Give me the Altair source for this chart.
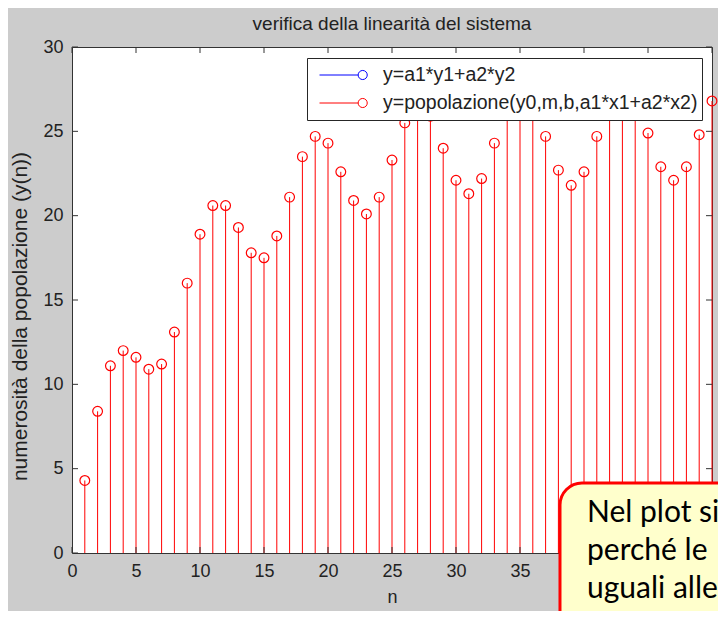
import altair as alt
import pandas as pd

# ---- data ----
n_values = list(range(1, 51))
y_values = [4.3, 8.4, 11.1, 12.0, 11.6, 10.9, 11.2, 13.1, 16.0, 18.9,
            20.6, 20.6, 19.3, 17.8, 17.5, 18.8, 21.1, 23.5, 24.7, 24.3,
            22.6, 20.9, 20.1, 21.1, 23.3, 25.5, 27.6, 25.9, 24.0, 22.1,
            21.3, 22.2, 24.3, 26.8, 27.9, 26.9, 24.7, 22.7, 21.8, 22.6,
            24.7, 26.6, 27.4, 26.6, 24.9, 22.9, 22.1, 22.9, 24.8, 26.8]
series_names = ["y=a1*y1+a2*y2", "y=popolazione(y0,m,b,a1*x1+a2*x2)"]
series_colors = ["#0000FF", "#FF0000"]
x_ticks = [0, 5, 10, 15, 20, 25, 30, 35, 40, 45, 50]
y_ticks = [0, 5, 10, 15, 20, 25, 30]
note_lines = ["Nel  plot  si", "perché  le", "uguali  alle"]

W, H = 640, 506
FONT = "Liberation Sans"
TXT = "#222222"
FRAME = "#333333"

# the blue series coincides with the red one and is completely hidden under it,
# so only the red stems are drawn; the legend lists both series
df = pd.DataFrame({"n": n_values, "value": y_values, "serie": series_names[1]})

xt = pd.DataFrame({"n": x_ticks})
yt = pd.DataFrame({"value": y_ticks})

xscale = alt.Scale(domain=[0, 50], nice=False)
yscale = alt.Scale(domain=[0, 30], nice=False)

sym_path = "M-1,0L0.61,0M0.99,0A0.19,0.19,0,1,1,0.61,0A0.19,0.19,0,1,1,0.99,0"
legend = alt.Legend(title=None, orient="none", legendX=235, legendY=11,
                    fillColor="white", strokeColor="#262626", padding=4,
                    clipHeight=26, rowPadding=2, symbolType=sym_path,
                    symbolSize=2304, symbolStrokeWidth=1, symbolOffset=8,
                    symbolFillColor="transparent",
                    labelOffset=15, labelFontSize=19.5, labelFont=FONT,
                    labelColor=TXT, labelLimit=420)
color = alt.Color("serie:N",
                  scale=alt.Scale(domain=series_names, range=series_colors),
                  legend=legend)

xenc = alt.X("n:Q", scale=xscale,
             axis=alt.Axis(values=x_ticks, title="n", ticks=False, grid=False,
                           domain=False, labelPadding=9, titlePadding=8,
                           labelFontSize=18, titleFontSize=18, labelFont=FONT,
                           titleFont=FONT, labelColor=TXT, titleColor=TXT,
                           titleFontWeight="normal", labelFlush=False))
yenc = alt.Y("value:Q", scale=yscale,
             axis=alt.Axis(values=y_ticks, title="numerosità della popolazione (y(n))",
                           ticks=False, grid=False, domain=False, labelPadding=9,
                           titlePadding=12, labelFontSize=18, titleFontSize=21,
                           titleY=269,
                           labelFont=FONT, titleFont=FONT, labelColor=TXT,
                           titleColor=TXT, titleFontWeight="normal", labelFlush=False))

stems = alt.Chart(df).mark_rule(strokeWidth=1).encode(
    x=xenc, y=yenc, y2=alt.datum(0), color=color)

points = alt.Chart(df).mark_point(shape="circle", filled=False, size=95,
                                  strokeWidth=1.2, opacity=1).encode(
    x="n:Q", y="value:Q", color=color)

tick_top = alt.Chart(xt).mark_rule(color=FRAME).encode(
    x="n:Q", y=alt.value(0), y2=alt.value(6))
tick_bot = alt.Chart(xt).mark_rule(color=FRAME).encode(
    x="n:Q", y=alt.value(H - 6), y2=alt.value(H))
tick_left = alt.Chart(yt).mark_rule(color=FRAME).encode(
    y="value:Q", x=alt.value(0), x2=alt.value(6))
tick_right = alt.Chart(yt).mark_rule(color=FRAME).encode(
    y="value:Q", x=alt.value(W - 6), x2=alt.value(W))

note_df = pd.DataFrame({"t": [note_lines]})
note_box = alt.Chart(note_df).mark_rect(
    fill="#FFFFCC", stroke="#FF0000", strokeWidth=3, cornerRadius=22).encode(
    x=alt.value(488), x2=alt.value(720), y=alt.value(436), y2=alt.value(620))
note_text = alt.Chart(note_df).mark_text(
    font="Lato", fontSize=30, color="#000000", align="left",
    baseline="alphabetic", lineHeight=38).encode(
    x=alt.value(515), y=alt.value(475), text="t")

chart = alt.layer(
    stems, points, tick_top, tick_bot, tick_left, tick_right, note_box, note_text
).properties(
    width=W, height=H,
    title=alt.TitleParams("verifica della linearità del sistema", fontSize=19,
                          font=FONT, fontWeight="normal", color=TXT,
                          anchor="middle", offset=4),
    autosize=alt.AutoSizeParams(type="none"),
    padding={"left": 64, "top": 39, "right": 6, "bottom": 58},
).configure(background="#CCCCCC").configure_view(
    stroke=FRAME, strokeWidth=1, fill="white")

chart.save("out.html", embed_options={"renderer": "svg", "actions": False})
